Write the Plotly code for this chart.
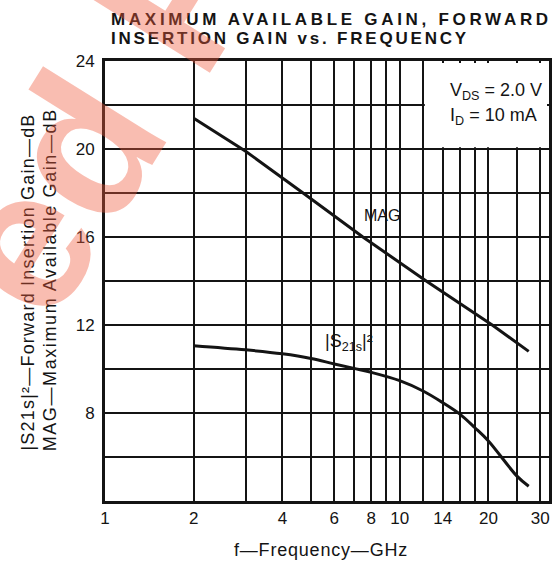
import math
import plotly.graph_objects as go

# ---- data ----
mag_freq = [2, 3, 4.7, 7.5, 12.3, 20.6, 27.4]
mag_db = [21.4, 19.9, 18.0, 16.0, 14.0, 12.0, 10.8]

s21_freq = [2, 3, 4, 5, 6, 7, 8, 10, 12, 14, 16, 18, 20, 25, 27.4]
s21_db = [11.06, 10.87, 10.69, 10.48, 10.23, 10.03, 9.85, 9.47, 9.0, 8.47, 7.95, 7.33, 6.73, 5.13, 4.67]

x_tickvals = [1, 2, 4, 6, 8, 10, 14, 20, 30]
x_ticktext = ["1", "2", "4", "6", "8", "10", "14", "20", "30"]
x_minor = [3, 5, 7, 9, 12, 16, 18, 25]
y_tickvals = [8, 12, 16, 20, 24]
y_minor = [6, 10, 14, 18, 22]

FONT = "Liberation Sans"
INK = "#141414"

fig = go.Figure()
fig.add_trace(go.Scatter(x=mag_freq, y=mag_db, mode="lines", line=dict(color=INK, width=3),
                         showlegend=False, hoverinfo="skip"))
fig.add_trace(go.Scatter(x=s21_freq, y=s21_db, mode="lines", line=dict(color=INK, width=3, shape="spline"),
                         showlegend=False, hoverinfo="skip"))

XMAX_LOG = 1.5066
fig.update_xaxes(type="log", range=[0, XMAX_LOG], tickvals=x_tickvals, ticktext=x_ticktext,
                 showgrid=True, gridcolor=INK, gridwidth=1.8, ticks="",
                 minor=dict(tickvals=x_minor, showgrid=True, gridcolor=INK, gridwidth=1.8, ticks=""),
                 showline=True, linecolor=INK, linewidth=3, mirror=True, zeroline=False,
                 tickfont=dict(family=FONT, size=17, color=INK), ticklabelstandoff=0)
fig.update_yaxes(range=[4, 24], tickvals=y_tickvals,
                 showgrid=True, gridcolor=INK, gridwidth=1.8, ticks="",
                 minor=dict(tickvals=y_minor, showgrid=True, gridcolor=INK, gridwidth=1.8, ticks=""),
                 showline=True, linecolor=INK, linewidth=3, mirror=True, zeroline=False,
                 tickfont=dict(family=FONT, size=17, color=INK), ticklabelstandoff=4)

# white inset box for the conditions (covers the grid in the top-right corner)
fig.add_shape(type="rect", xref="paper", yref="paper",
              x0=(math.log10(12) / XMAX_LOG) + 0.004, x1=1.0 - 2 / 447,
              y0=0.8 + 1.8 / 440, y1=1.0 - 2 / 440,
              fillcolor="white", line=dict(width=0), layer="above")

ann_font = dict(family=FONT, size=16, color=INK)
fig.add_annotation(x=math.log10(8.72), y=17.0, xref="x", yref="y", text="MAG",
                   showarrow=False, font=ann_font, xanchor="center", yanchor="middle")
fig.add_annotation(x=math.log10(6.75), y=11.2, xref="x", yref="y", text="|S<sub>21s</sub>|²",
                   showarrow=False, font=dict(family=FONT, size=18, color=INK),
                   xanchor="center", yanchor="middle")
box_font = dict(family=FONT, size=18, color=INK)
fig.add_annotation(x=math.log10(14.6), y=22.6, xref="x", yref="y", text="V<sub>DS</sub> = 2.0 V",
                   showarrow=False, xanchor="left", yanchor="middle", font=box_font)
fig.add_annotation(x=math.log10(14.6), y=21.5, xref="x", yref="y", text="I<sub>D</sub> = 10 mA",
                   showarrow=False, xanchor="left", yanchor="middle", font=box_font)

# title (two lines, wide spacing)
tfont = dict(family=FONT, size=17, color=INK, weight="bold")
fig.add_annotation(x=4 / 447, y=1 + 42 / 440, xref="paper", yref="paper", xanchor="left", yanchor="middle",
                   text='<span style="letter-spacing:3.7px">MAXIMUM AVAILABLE GAIN, FORWARD</span>',
                   showarrow=False, font=tfont)
fig.add_annotation(x=4 / 447, y=1 + 22 / 440, xref="paper", yref="paper", xanchor="left", yanchor="middle",
                   text='<span style="letter-spacing:2.8px">INSERTION GAIN vs. FREQUENCY</span>',
                   showarrow=False, font=tfont)

# axis titles
afont = dict(family=FONT, size=18, color=INK)
fig.add_annotation(x=(27 - 105) / 447, y=(501 - 282) / 440, xref="paper", yref="paper", textangle=-90,
                   xanchor="center", yanchor="middle",
                   text='<span style="letter-spacing:1.2px">|S21s|²—Forward Insertion Gain—dB</span>',
                   showarrow=False, font=afont)
fig.add_annotation(x=(50 - 105) / 447, y=(501 - 280) / 440, xref="paper", yref="paper", textangle=-90,
                   xanchor="center", yanchor="middle",
                   text='<span style="letter-spacing:1.6px">MAG—Maximum Available Gain—dB</span>',
                   showarrow=False, font=afont)
fig.add_annotation(x=(322 - 105) / 447, y=(501 - 550) / 440, xref="paper", yref="paper",
                   xanchor="center", yanchor="middle",
                   text='<span style="letter-spacing:0.8px">f—Frequency—GHz</span>',
                   showarrow=False, font=afont)

# watermark
fig.add_annotation(x=(102 - 105) / 447, y=(501 - 113) / 440, xref="paper", yref="paper",
                   xanchor="center", yanchor="middle",
                   text="ed P", textangle=-58, showarrow=False,
                   font=dict(family=FONT, size=200, color="rgba(240,90,60,0.4)", weight="bold"))

fig.update_layout(width=555, height=563, margin=dict(l=105, r=3, t=61, b=62),
                  paper_bgcolor="white", plot_bgcolor="white", showlegend=False)

fig.write_html("out.html")
